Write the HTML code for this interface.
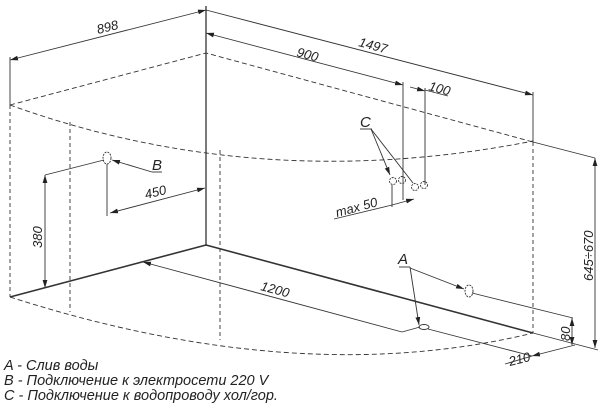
<!DOCTYPE html>
<html><head><meta charset="utf-8"><style>
html,body{margin:0;padding:0;background:#fff;width:600px;height:405px;overflow:hidden}
svg{display:block}
text{font-family:"Liberation Sans",sans-serif;font-style:italic;fill:#222}
</style></head><body>
<svg width="600" height="405" viewBox="0 0 600 405" xmlns="http://www.w3.org/2000/svg">
<defs>
<marker id="a" viewBox="0 0 10 6" refX="10" refY="3" markerWidth="8" markerHeight="5" orient="auto-start-reverse" markerUnits="userSpaceOnUse"><path d="M0,0L10,3L0,6z" fill="#222"/></marker>
</defs>
<g stroke="#333" fill="none" stroke-width="0.9">
<line x1="206" y1="6" x2="206" y2="246" stroke-width="1.3"/>
<line x1="10" y1="60" x2="206" y2="10" marker-start="url(#a)" marker-end="url(#a)"/>
<line x1="206" y1="10" x2="533" y2="95" marker-end="url(#a)"/>
<line x1="206" y1="33" x2="403" y2="85" marker-start="url(#a)" marker-end="url(#a)"/>
<line x1="425" y1="90" x2="448" y2="96"/>
<line x1="410" y1="87" x2="425" y2="91" marker-end="url(#a)"/>
<line x1="10" y1="57" x2="10" y2="105"/>
<line x1="533" y1="92" x2="533" y2="142"/>
<line x1="403" y1="82" x2="403" y2="200"/>
<line x1="425" y1="88" x2="425" y2="185"/>
<path d="M10,105 L206,53 L533,142" stroke-dasharray="5,3"/>
<line x1="533" y1="142" x2="595" y2="158"/>
<path d="M10,105 Q260,195 533,141" stroke-dasharray="5,3"/>
<path d="M10,297 Q300,390 533,333" stroke-dasharray="5,3"/>
<line x1="10" y1="105" x2="10" y2="297" stroke-dasharray="4,3"/>
<line x1="70" y1="122" x2="70" y2="312" stroke-dasharray="4,3"/>
<line x1="220" y1="150" x2="220" y2="340" stroke-dasharray="4,3"/>
<line x1="533" y1="142" x2="533" y2="333" stroke-dasharray="4,3"/>
<line x1="206" y1="245" x2="10" y2="297" stroke-width="1.6"/>
<line x1="206" y1="245" x2="533" y2="333" stroke-width="1.6"/>
<line x1="533" y1="333" x2="598" y2="350"/>
<line x1="595" y1="158" x2="595" y2="348" marker-start="url(#a)" marker-end="url(#a)"/>
<line x1="143" y1="262" x2="402" y2="332" marker-start="url(#a)"/>
<line x1="402" y1="332" x2="420" y2="327"/>
<ellipse cx="424" cy="327" rx="5" ry="2.5"/>
<line x1="399" y1="267" x2="410" y2="267"/>
<line x1="410" y1="267" x2="419" y2="325" marker-end="url(#a)"/>
<line x1="410" y1="268" x2="464" y2="289" marker-end="url(#a)"/>
<ellipse cx="469" cy="291" rx="4" ry="6" stroke-dasharray="2,1"/>
<line x1="472" y1="293" x2="573" y2="318"/>
<line x1="572" y1="318" x2="572" y2="345" marker-start="url(#a)" marker-end="url(#a)"/>
<line x1="428" y1="329" x2="532" y2="356"/>
<line x1="532" y1="356" x2="575" y2="345" marker-start="url(#a)"/>
<line x1="505" y1="364" x2="532" y2="356"/>
<ellipse cx="107" cy="158" rx="4" ry="6" stroke-dasharray="2,1"/>
<line x1="152" y1="172" x2="162" y2="172"/>
<line x1="152" y1="172" x2="112" y2="160" marker-end="url(#a)"/>
<line x1="45" y1="175" x2="104" y2="160"/>
<line x1="45" y1="175" x2="45" y2="288" marker-start="url(#a)" marker-end="url(#a)"/>
<line x1="107" y1="164" x2="107" y2="216"/>
<line x1="110" y1="213" x2="205" y2="188" marker-start="url(#a)" marker-end="url(#a)"/>
<line x1="360" y1="129" x2="372" y2="129"/>
<line x1="371" y1="129" x2="390" y2="175" marker-end="url(#a)"/>
<line x1="371" y1="129" x2="413" y2="183"/>
<circle cx="393" cy="181" r="3.5" stroke-dasharray="2,1"/>
<circle cx="402" cy="180" r="3.5" stroke-dasharray="2,1"/>
<circle cx="415" cy="187" r="3.5" stroke-dasharray="2,1"/>
<circle cx="424" cy="185" r="3.5" stroke-dasharray="2,1"/>
<line x1="392" y1="185" x2="392" y2="207"/>
<line x1="334" y1="219" x2="392" y2="205"/>
<line x1="392" y1="205" x2="414" y2="199" marker-end="url(#a)"/>
</g>
<g font-size="13">
<text x="98" y="34" transform="rotate(-14 98 34)">898</text>
<text x="358" y="46" transform="rotate(15 358 46)">1497</text>
<text x="296" y="56" transform="rotate(15 296 56)">900</text>
<text x="428" y="90" transform="rotate(15 428 90)">100</text>
<text x="360" y="127" font-size="15">C</text>
<text x="152" y="170" font-size="15">B</text>
<text x="146" y="199" transform="rotate(-14 146 199)">450</text>
<text x="42" y="248" transform="rotate(-90 42 248)">380</text>
<text x="337" y="217" transform="rotate(-15 337 217)">max 50</text>
<text x="260" y="290" transform="rotate(15 260 290)">1200</text>
<text x="398" y="264" font-size="15">A</text>
<text x="570" y="341" transform="rotate(-90 570 341)">80</text>
<text x="510" y="366" transform="rotate(-14 510 366)">210</text>
<text x="593" y="281" transform="rotate(-90 593 281)">645÷670</text>
<g font-size="14.5">
<text x="4" y="370">A - Слив воды</text>
<text x="4" y="385">B - Подключение к электросети 220 V</text>
<text x="4" y="400">C - Подключение к водопроводу хол/гор.</text>
</g>
</g>
</svg>
</body></html>
